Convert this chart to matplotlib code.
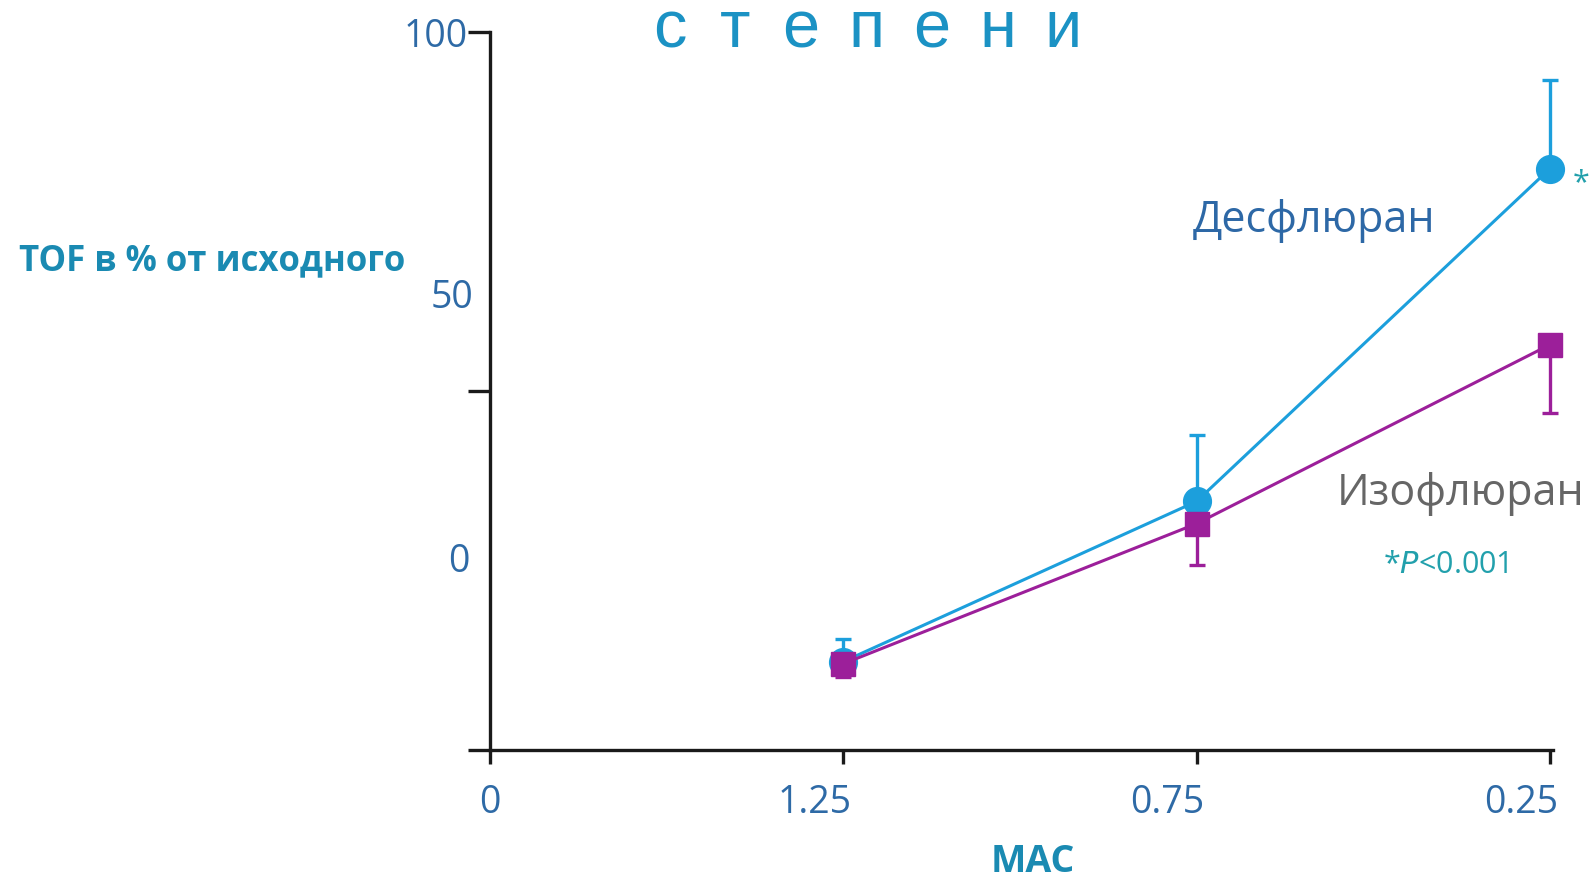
import matplotlib
matplotlib.use("Agg")
import matplotlib.pyplot as plt
import matplotlib.transforms as mtransforms

# ---- data ----
mac_labels = ["0", "1.25", "0.75", "0.25"]
mac_pos = [1, 2, 3]
des_values = [12.3, 34.6, 80.9]
des_err_up = [3.2, 9.2, 12.3]
iso_values = [12.0, 31.5, 56.4]
iso_err_down = [1.8, 5.7, 9.5]
y_ticks = [0, 50, 100]
title_letters = ["с", "т", "е", "п", "е", "н", "и"]

W, H = 1591, 879
fig = plt.figure(figsize=(W / 100, H / 100), dpi=100)
fig.patch.set_facecolor("white")

def fx(x):
    return x / W

def fy(y):
    return 1 - y / H

ax = fig.add_axes([fx(490), fy(751), fx(1553) - fx(490), fy(32.5) - fy(751)])
ax.set_xlim(0, 3.009)
ax.set_ylim(0, 100)

for s in ["top", "right"]:
    ax.spines[s].set_visible(False)
for s in ["left", "bottom"]:
    ax.spines[s].set_linewidth(2.4)
    ax.spines[s].set_color("#1a1a1a")

blue = "#1c9fdc"
purple = "#9c1f9a"
tick_col = "#2e6aa6"

ax.errorbar(mac_pos, des_values, yerr=[[0, 0, 0], des_err_up], color=blue,
            lw=2.2, marker="o", ms=20, capsize=6, capthick=2.4, elinewidth=2.4,
            clip_on=False, zorder=3)
ax.errorbar(mac_pos, iso_values, yerr=[iso_err_down, [0, 0, 0]], color=purple,
            lw=2.2, marker="s", ms=17, capsize=6, capthick=2.4, elinewidth=2.4,
            clip_on=False, zorder=4)

ax.set_xticks(range(len(mac_labels)))
ax.set_xticklabels(mac_labels)
ax.tick_params(axis="x", length=10, width=2.4, color="#1a1a1a", pad=14,
               labelsize=27, labelcolor=tick_col)
off = mtransforms.ScaledTranslation(-29 / 100, 0, fig.dpi_scale_trans)
for lab in ax.get_xticklabels()[1:]:
    lab.set_transform(lab.get_transform() + off)

ax.set_yticks(y_ticks)
ax.set_yticklabels(["", "", "100"])
ax.tick_params(axis="y", length=16, width=2.4, color="#1a1a1a", pad=0,
               labelsize=27, labelcolor=tick_col)
for lab in ax.get_xticklabels() + ax.get_yticklabels():
    lab.set_family("Open Sans")

# misplaced y-axis labels as in the original picture
fig.text(fx(473), fy(298), "50", ha="right", va="center", fontsize=27,
         color=tick_col, family="Open Sans")
fig.text(fx(459), fy(562), "0", ha="center", va="center", fontsize=27,
         color=tick_col, family="Open Sans")

fig.text(fx(212), fy(261), "TOF в % от исходного", ha="center", va="center",
         fontsize=25, fontweight="bold", color="#1a8ab2", family="Open Sans")
fig.text(fx(1033), fy(862), "MAC", ha="center", va="center",
         fontsize=27, fontweight="bold", color="#1a8ab2", family="Open Sans")
for i, ch in enumerate(title_letters):
    fig.text(fx(670 + i * 65.5), fy(30), ch, ha="center", va="center",
             fontsize=48, color="#1b92c4",
             family=["Liberation Sans Narrow", "Liberation Sans"])
fig.text(fx(1314), fy(221), "Десфлюран", ha="center", va="center",
         fontsize=31, color="#2d68a6", family="Open Sans")
fig.text(fx(1461), fy(494), "Изофлюран", ha="center", va="center",
         fontsize=31, color="#666666", family="Open Sans")
fig.text(fx(1446), fy(565), r"*$\it{P}$<0.001", ha="center", va="center",
         fontsize=22, color="#22a0ac", family="Open Sans")
fig.text(fx(1581), fy(183), "*", ha="center", va="center",
         fontsize=22, color="#22a0ac", family="Open Sans")

fig.savefig("out.png", dpi=100, facecolor="white")
